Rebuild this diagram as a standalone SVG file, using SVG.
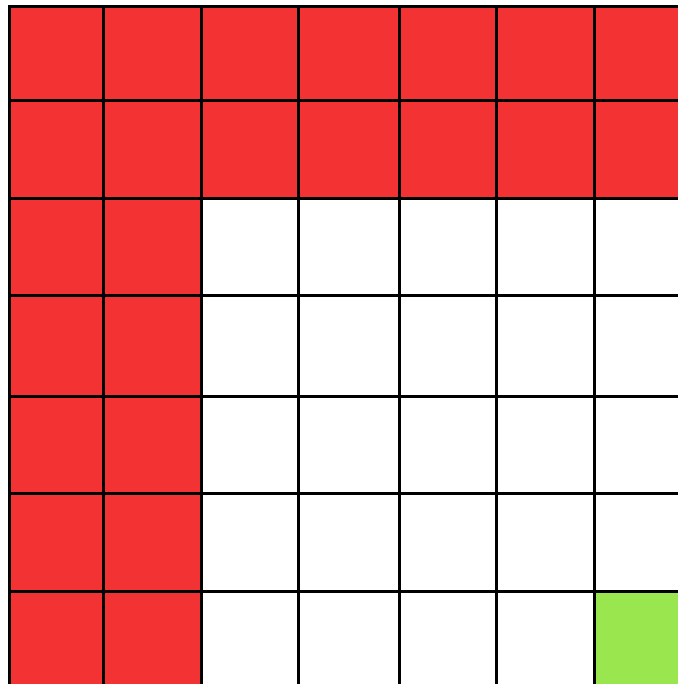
<svg xmlns="http://www.w3.org/2000/svg" width="678" height="684" viewBox="0 0 678 684">
<style>
.r{fill:#F33333}
.g{fill:#9AE64E}
.l{stroke:#000;stroke-width:3;fill:none}
</style>
<rect x="0" y="0" width="678" height="684" fill="#fff"/>
<g id="cells">
<rect class="r" x="9.5" y="6.5" width="668.5" height="192"/>
<rect class="r" x="9.5" y="198.5" width="192" height="485.5"/>
<rect class="g" x="594.5" y="591.5" width="83.5" height="92.5"/>
</g>
<g id="grid">
<path class="l" d="M9.5 6.5V684M103.5 6.5V684M201.5 6.5V684M298.5 6.5V684M399.5 6.5V684M496.5 6.5V684M594.5 6.5V684"/>
<path class="l" d="M8 6.5H678M8 100.5H678M8 198.5H678M8 295.5H678M8 396.5H678M8 493.5H678M8 591.5H678"/>
</g>
</svg>
